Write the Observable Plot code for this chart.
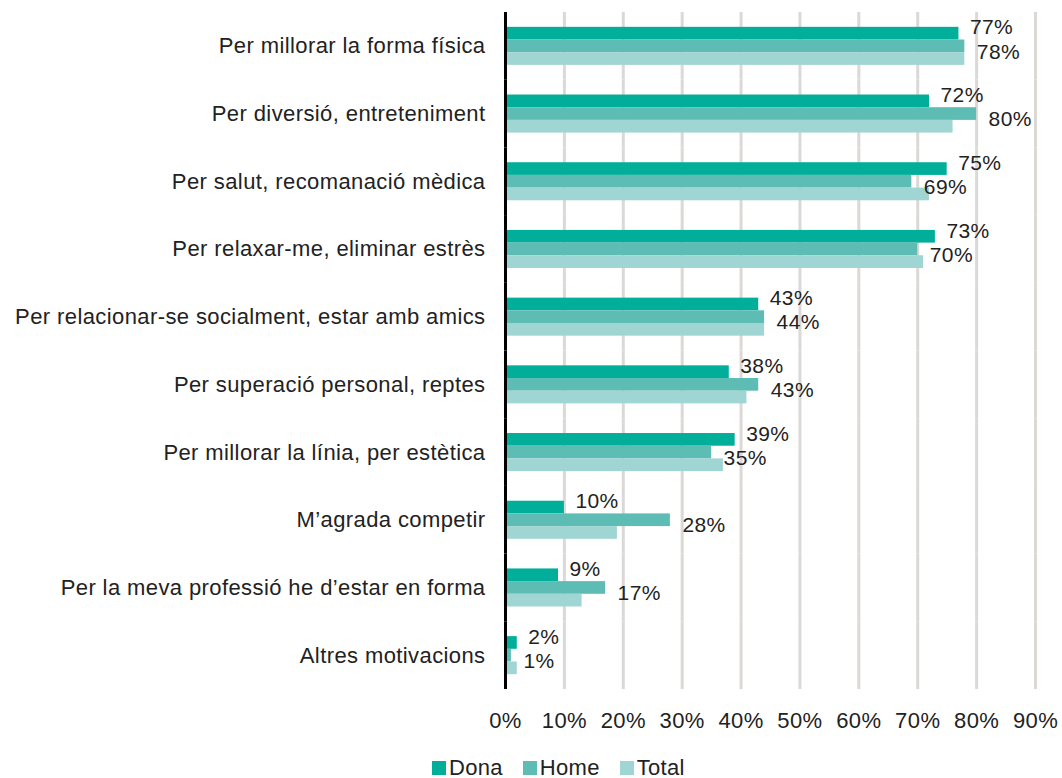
<!DOCTYPE html>
<html><head><meta charset="utf-8">
<script src="https://cdn.jsdelivr.net/npm/d3@7"></script>
<script src="https://cdn.jsdelivr.net/npm/@observablehq/plot@0.6"></script>
<style>
body{margin:0;background:#fff;font-family:"Liberation Sans",Arial,sans-serif;color:#222;}
#legend{display:flex;align-items:center;margin-left:432px;height:26px;font-size:22px;line-height:22px;padding-top:7px;letter-spacing:0.3px;}
#legend .item{display:flex;align-items:center;margin-right:20px;}
#legend .sw{width:14px;height:14px;margin-right:3px;display:inline-block;}
</style></head><body><div id="chart"></div><div id="legend"></div>
<script>
const categories = [
  "Per millorar la forma física",
  "Per diversió, entreteniment",
  "Per salut, recomanació mèdica",
  "Per relaxar-me, eliminar estrès",
  "Per relacionar-se socialment, estar amb amics",
  "Per superació personal, reptes",
  "Per millorar la línia, per estètica",
  "M’agrada competir",
  "Per la meva professió he d’estar en forma",
  "Altres motivacions"
];
const series = ["Dona", "Home", "Total"];
const dona  = [77, 72, 75, 73, 43, 38, 39, 10, 9, 2];
const home  = [78, 80, 69, 70, 44, 43, 35, 28, 17, 1];
const total = [78, 76, 72, 71, 44, 41, 37, 19, 13, 2];
const colors = ["#00ae9a", "#5dbdb4", "#9fd5d2"];
const xTicks = [0, 10, 20, 30, 40, 50, 60, 70, 80, 90];

const values = {Dona: dona, Home: home, Total: total};
const data = categories.flatMap((c, i) => series.map(s => ({cat: c, s, v: values[s][i]})));

const chart = Plot.plot({
  width: 1062, height: 748,
  marginLeft: 505, marginRight: 27, marginTop: 12, marginBottom: 59,
  style: {fontFamily: "'Liberation Sans', Arial, sans-serif", fontSize: "22px", letterSpacing: "0.4px", color: "#222", background: "#fff"},
  x: {domain: [0, 90], ticks: xTicks, tickFormat: d => d + "%", tickSize: 0, tickPadding: 23, label: null},
  y: {domain: series, axis: null, paddingInner: 0, paddingOuter: 1.17, round: false},
  fy: {domain: categories, padding: 0, round: false, axis: "left", tickSize: 0, tickPadding: 20, label: null},
  color: {domain: series, range: colors},
  marks: [
    Plot.ruleX(xTicks.filter(t => t > 0), {stroke: "#dcd8d5", strokeWidth: 3}),
    Plot.barX(data, {fy: "cat", y: "s", x: "v", fill: "s"}),
    Plot.ruleX([0], {stroke: "#000", strokeWidth: 3}),
    Plot.text(data.filter(d => d.s === "Dona"), {fy: "cat", y: "s", x: "v", text: d => d.v + "%", dx: 11, dy: -6, fontSize: 21, textAnchor: "start", fill: "#222"}),
    Plot.text(data.filter(d => d.s === "Home"), {fy: "cat", y: "s", x: "v", text: d => d.v + "%", dx: 12, dy: 5.5, fontSize: 21, textAnchor: "start", fill: "#222"})
  ]
});
document.getElementById("chart").appendChild(chart);

const legend = document.getElementById("legend");
series.forEach((s, i) => {
  const it = document.createElement("span");
  it.className = "item";
  it.innerHTML = `<span class="sw" style="background:${colors[i]}"></span>${s}`;
  legend.appendChild(it);
});
</script>
</body></html>
